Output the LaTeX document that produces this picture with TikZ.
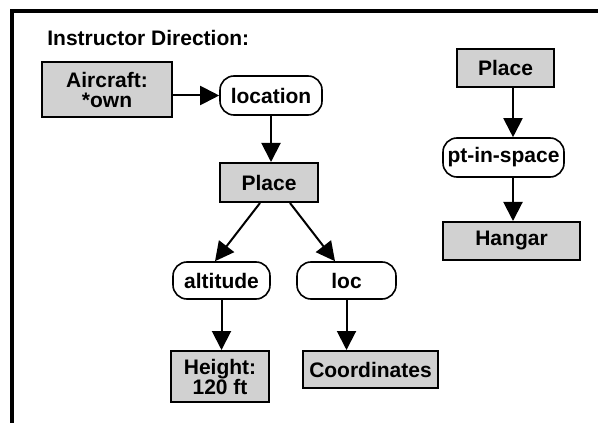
\documentclass[tikz,border=0pt]{standalone}
\usepackage{fontspec}
\setmainfont{Liberation Sans}
\usetikzlibrary{arrows.meta}
\definecolor{boxshade}{gray}{0.82}

\begin{document}
\begin{tikzpicture}[x=0.5pt, y=0.5pt,
    font=\fontsize{10.5}{10}\selectfont\bfseries,
    concept/.style={draw, line width=1pt, fill=boxshade, inner sep=0pt, align=center},
    relation/.style={draw, line width=0.8pt, fill=white, rounded corners=7pt, inner sep=0pt},
    link/.style={line width=1pt, -{Triangle[length=9.5pt, width=9.5pt]}}]
  \useasboundingbox (0,0) rectangle (598,423);
  % frame
  \draw[line width=2pt] (598,411.5) -- (12,411.5) -- (12,0);
  \node[anchor=west, inner sep=0pt] (title) at (47,385) {Instructor Direction:};
  % left: aircraft location
  \node[concept, minimum width=65pt, minimum height=27.5pt] (aircraft) at (107,333.5) {Aircraft:\\*own};
  \node[relation, minimum width=51pt, minimum height=19.5pt] (location) at (271,327.5) {location};
  \node[concept, minimum width=49pt, minimum height=19.5pt] (place) at (269,240.5) {Place};
  \node[relation, minimum width=48.5pt, minimum height=18.5pt] (altitude) at (221.5,142.5) {altitude};
  \node[relation, minimum width=49.5pt, minimum height=18.5pt] (loc) at (346.5,142.5) {loc};
  \node[concept, minimum width=49pt, minimum height=25.5pt] (height) at (220,46.5) {Height:\\120 ft};
  \node[concept, minimum width=67.5pt, minimum height=18.5pt] (coords) at (370.5,53.5) {Coordinates};
  \draw[link] (aircraft.east |- location.west) -- (location.west);
  \draw[link] (location.south) -- (location.south |- place.north);
  \draw[link] ([xshift=-4.5pt]place.south) -- ([xshift=-3.25pt]altitude.north);
  \draw[link] ([xshift=10.5pt]place.south) -- ([xshift=-5.75pt]loc.north);
  \draw[link] (altitude.south) -- (altitude.south |- height.north);
  \draw[link] (loc.south) -- (loc.south |- coords.north);
  % right: hangar
  \node[concept, minimum width=48.5pt, minimum height=19pt] (spot) at (505.5,355) {Place};
  \node[relation, minimum width=60.5pt, minimum height=19.5pt] (ptspace) at (503.5,265.5) {pt-in-space};
  \node[concept, minimum width=68.5pt, minimum height=19pt] (hangar) at (511.5,182) {Hangar};
  \coordinate (spine) at (513,0);
  \draw[link] (spot.south -| spine) -- (ptspace.north -| spine);
  \draw[link] (ptspace.south -| spine) -- (hangar.north -| spine);
\end{tikzpicture}
\end{document}
